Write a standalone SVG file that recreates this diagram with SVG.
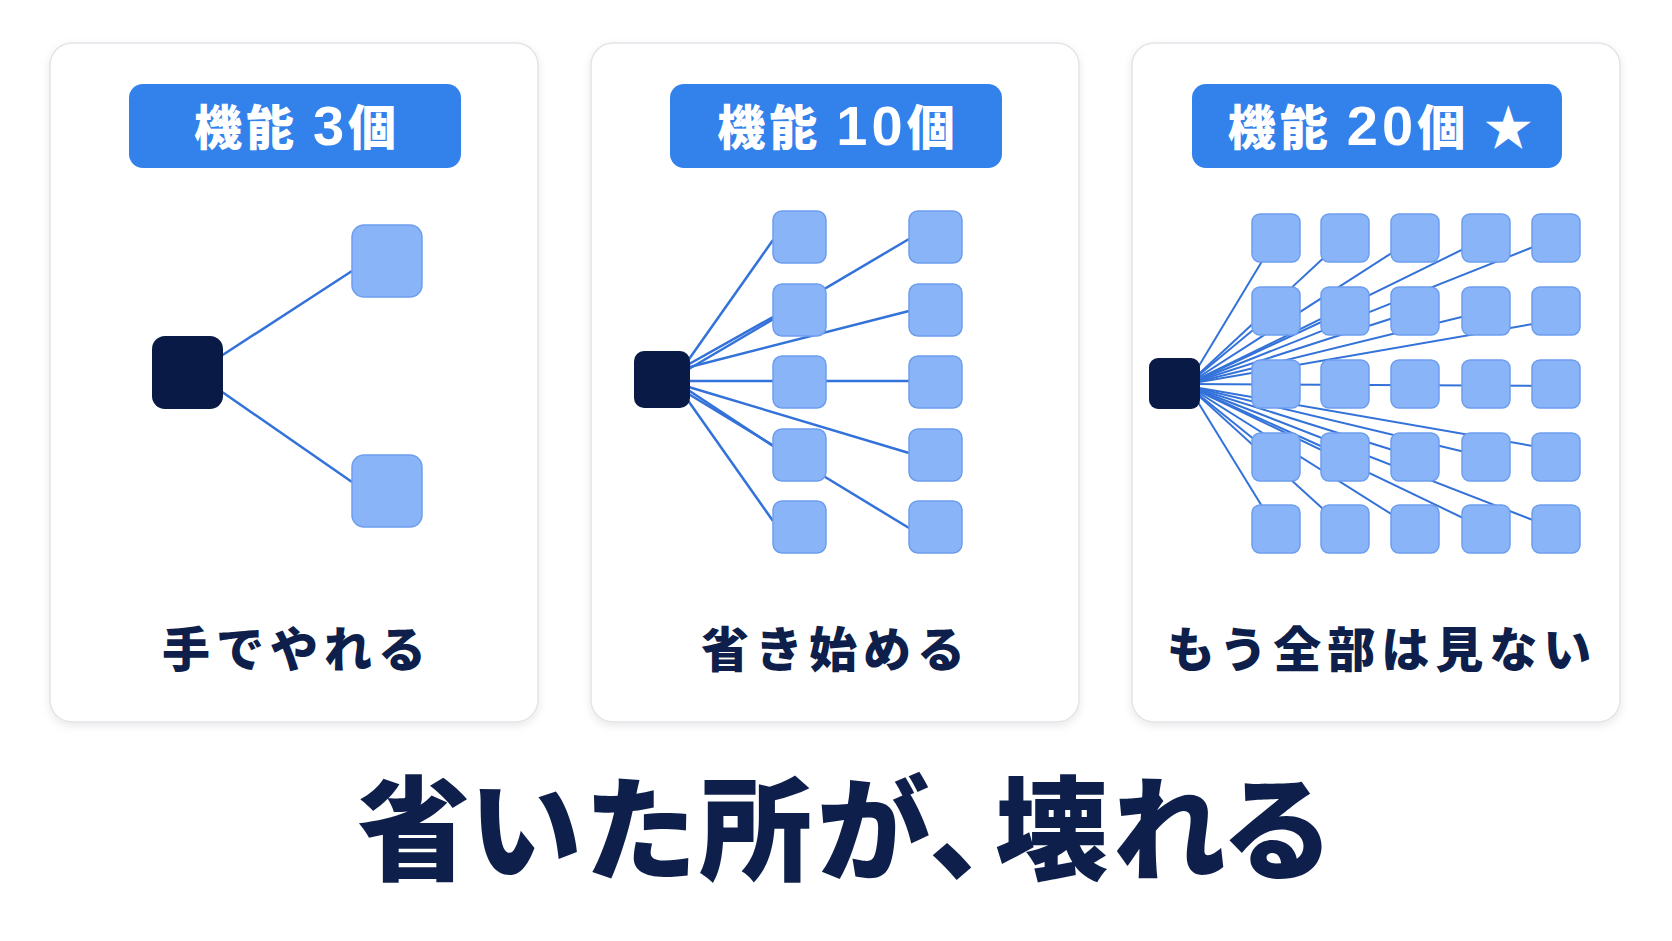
<svg xmlns="http://www.w3.org/2000/svg" width="1672" height="941" viewBox="0 0 1672 941">
<defs>
<filter id="sh" x="-10%" y="-10%" width="120%" height="120%">
<feDropShadow dx="0" dy="3" stdDeviation="4" flood-color="#000" flood-opacity="0.09"/>
</filter>
<style>
.card{fill:#ffffff;stroke:#e2e4e8;stroke-width:1.5}
.badge{fill:#3381ea}
.btxt{font-family:"Noto Sans CJK JP","Noto Sans",sans-serif;font-weight:900;font-size:48px;fill:#ffffff;text-anchor:middle;letter-spacing:4px}
.dig{font-family:"Liberation Sans","Noto Sans CJK JP",sans-serif;font-weight:700;font-size:56px}
.lbl{font-family:"Noto Sans CJK JP","Noto Sans",sans-serif;font-weight:900;font-size:48px;fill:#0d1f4a;text-anchor:middle;letter-spacing:6px}
.title{font-family:"Noto Sans CJK JP","Noto Sans",sans-serif;font-weight:900;font-size:113px;fill:#0d1f4a}
.dark{fill:#0a1a47}
.sq{fill:#8ab4f8;stroke:#6d9eee;stroke-width:1.5}
.ln{stroke:#3372d9;stroke-width:2.5;fill:none}
.ln3{stroke:#3372d9;stroke-width:2;fill:none}
</style>
</defs>
<rect width="1672" height="941" fill="#ffffff"/>

<!-- Cards -->
<g id="card1">
<rect class="card" x="50" y="43" width="488" height="679" rx="22" filter="url(#sh)"/>
<rect class="badge" x="129" y="84" width="332" height="84" rx="14"/>
<text class="btxt" x="297" y="145">機能 <tspan class="dig">3</tspan>個</text>
<text class="lbl" x="297" y="667">手でやれる</text>
</g>
<g id="card2">
<rect class="card" x="591" y="43" width="488" height="679" rx="22" filter="url(#sh)"/>
<rect class="badge" x="670" y="84" width="332" height="84" rx="14"/>
<text class="btxt" x="838" y="145">機能 <tspan class="dig">10</tspan>個</text>
<text class="lbl" x="836" y="667">省き始める</text>
</g>
<g id="card3">
<rect class="card" x="1132" y="43" width="488" height="679" rx="22" filter="url(#sh)"/>
<rect class="badge" x="1192" y="84" width="370" height="84" rx="14"/>
<text class="btxt" x="1382" y="145">機能 <tspan class="dig">20</tspan>個 ★</text>
<text class="lbl" x="1382" y="667">もう全部は見ない</text>
</g>

<!-- Connectors -->
<g id="connectors">
<line class="ln" x1="215" y1="360" x2="352" y2="271"/>
<line class="ln" x1="215" y1="387" x2="352" y2="482"/>

<line class="ln" x1="682" y1="369" x2="773" y2="240"/>
<line class="ln" x1="682" y1="373" x2="909" y2="239"/>
<line class="ln" x1="682" y1="368" x2="773" y2="317"/>
<line class="ln" x1="682" y1="369" x2="909" y2="311"/>
<line class="ln" x1="682" y1="381" x2="909" y2="381"/>
<line class="ln" x1="682" y1="385" x2="909" y2="453"/>
<line class="ln" x1="682" y1="386" x2="773" y2="446"/>
<line class="ln" x1="682" y1="390" x2="909" y2="528"/>
<line class="ln" x1="682" y1="392" x2="773" y2="521"/>

<g id="fan3">
<line class="ln3" x1="1188" y1="384" x2="1276" y2="238"/>
<line class="ln3" x1="1188" y1="384" x2="1345" y2="238"/>
<line class="ln3" x1="1188" y1="384" x2="1415" y2="238"/>
<line class="ln3" x1="1188" y1="384" x2="1486" y2="238"/>
<line class="ln3" x1="1188" y1="384" x2="1556" y2="238"/>
<line class="ln3" x1="1188" y1="384" x2="1276" y2="311"/>
<line class="ln3" x1="1188" y1="384" x2="1345" y2="311"/>
<line class="ln3" x1="1188" y1="384" x2="1415" y2="311"/>
<line class="ln3" x1="1188" y1="384" x2="1486" y2="311"/>
<line class="ln3" x1="1188" y1="384" x2="1556" y2="320"/>
<line class="ln3" x1="1188" y1="384" x2="1556" y2="386"/>
<line class="ln3" x1="1188" y1="386" x2="1276" y2="457"/>
<line class="ln3" x1="1188" y1="386" x2="1345" y2="457"/>
<line class="ln3" x1="1188" y1="386" x2="1415" y2="457"/>
<line class="ln3" x1="1188" y1="386" x2="1486" y2="457"/>
<line class="ln3" x1="1188" y1="386" x2="1556" y2="450"/>
<line class="ln3" x1="1188" y1="386" x2="1276" y2="529"/>
<line class="ln3" x1="1188" y1="386" x2="1345" y2="529"/>
<line class="ln3" x1="1188" y1="386" x2="1415" y2="529"/>
<line class="ln3" x1="1188" y1="386" x2="1486" y2="529"/>
<line class="ln3" x1="1188" y1="386" x2="1556" y2="529"/>
</g>
</g>

<!-- Nodes panel 1 -->
<g id="p1-hub"><rect class="dark" x="152" y="336" width="71" height="73" rx="13"/></g>
<g id="p1-n1"><rect class="sq" x="352" y="225" width="70" height="72" rx="12"/></g>
<g id="p1-n2"><rect class="sq" x="352" y="455" width="70" height="72" rx="12"/></g>

<!-- Nodes panel 2 -->
<g id="p2-hub"><rect class="dark" x="634" y="351" width="56" height="57" rx="10"/></g>
<g id="p2-nodes">
<rect class="sq" x="773" y="211" width="53" height="52" rx="9"/>
<rect class="sq" x="773" y="284" width="53" height="52" rx="9"/>
<rect class="sq" x="773" y="356" width="53" height="52" rx="9"/>
<rect class="sq" x="773" y="429" width="53" height="52" rx="9"/>
<rect class="sq" x="773" y="501" width="53" height="52" rx="9"/>
<rect class="sq" x="909" y="211" width="53" height="52" rx="9"/>
<rect class="sq" x="909" y="284" width="53" height="52" rx="9"/>
<rect class="sq" x="909" y="356" width="53" height="52" rx="9"/>
<rect class="sq" x="909" y="429" width="53" height="52" rx="9"/>
<rect class="sq" x="909" y="501" width="53" height="52" rx="9"/>
</g>

<!-- Nodes panel 3 -->
<g id="p3-hub"><rect class="dark" x="1149" y="358" width="51" height="51" rx="9"/></g>
<g id="p3-nodes">
<rect class="sq" x="1252" y="214" width="48" height="48" rx="8"/>
<rect class="sq" x="1321" y="214" width="48" height="48" rx="8"/>
<rect class="sq" x="1391" y="214" width="48" height="48" rx="8"/>
<rect class="sq" x="1462" y="214" width="48" height="48" rx="8"/>
<rect class="sq" x="1532" y="214" width="48" height="48" rx="8"/>
<rect class="sq" x="1252" y="287" width="48" height="48" rx="8"/>
<rect class="sq" x="1321" y="287" width="48" height="48" rx="8"/>
<rect class="sq" x="1391" y="287" width="48" height="48" rx="8"/>
<rect class="sq" x="1462" y="287" width="48" height="48" rx="8"/>
<rect class="sq" x="1532" y="287" width="48" height="48" rx="8"/>
<rect class="sq" x="1252" y="360" width="48" height="48" rx="8"/>
<rect class="sq" x="1321" y="360" width="48" height="48" rx="8"/>
<rect class="sq" x="1391" y="360" width="48" height="48" rx="8"/>
<rect class="sq" x="1462" y="360" width="48" height="48" rx="8"/>
<rect class="sq" x="1532" y="360" width="48" height="48" rx="8"/>
<rect class="sq" x="1252" y="433" width="48" height="48" rx="8"/>
<rect class="sq" x="1321" y="433" width="48" height="48" rx="8"/>
<rect class="sq" x="1391" y="433" width="48" height="48" rx="8"/>
<rect class="sq" x="1462" y="433" width="48" height="48" rx="8"/>
<rect class="sq" x="1532" y="433" width="48" height="48" rx="8"/>
<rect class="sq" x="1252" y="505" width="48" height="48" rx="8"/>
<rect class="sq" x="1321" y="505" width="48" height="48" rx="8"/>
<rect class="sq" x="1391" y="505" width="48" height="48" rx="8"/>
<rect class="sq" x="1462" y="505" width="48" height="48" rx="8"/>
<rect class="sq" x="1532" y="505" width="48" height="48" rx="8"/>
</g>

<!-- Title -->
<text class="title" x="357 469 584 699 817 929 995 1113 1221" y="871">省いた所が、壊れる</text>
</svg>
